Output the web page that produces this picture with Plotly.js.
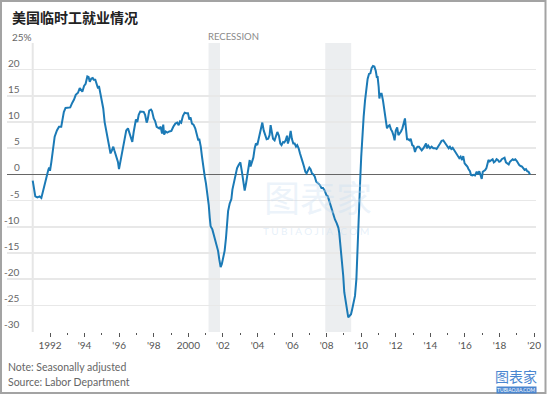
<!DOCTYPE html>
<html>
<head>
<meta charset="utf-8">
<script src="https://cdn.plot.ly/plotly-3.0.1.min.js"></script>
<style>
html,body{margin:0;padding:0;background:#fff;}
#chart{width:550px;height:396px;}
</style>
</head>
<body>
<div id="chart"></div>
<script>
// Temporary employment, % change from a year earlier
const years = [
1991.00,1991.15,1991.27,1991.40,1991.50,1991.60,1991.70,1991.80,1991.90,1991.95,
1992.00,1992.08,1992.17,1992.27,1992.40,1992.52,1992.65,1992.70,1992.80,1992.90,
1993.04,1993.17,1993.29,1993.39,1993.49,1993.62,1993.72,1993.78,1993.87,1993.97,
1994.06,1994.16,1994.23,1994.30,1994.39,1994.47,1994.53,1994.62,1994.70,1994.78,1994.83,1994.90,
1995.00,1995.08,1995.16,1995.26,1995.35,1995.45,1995.50,1995.58,1995.66,1995.72,1995.80,1995.87,1995.93,1995.99,
1996.07,1996.16,1996.24,1996.32,1996.41,1996.51,1996.60,1996.67,1996.76,1996.84,1996.93,1996.97,
1997.05,1997.13,1997.22,1997.32,1997.42,1997.50,1997.59,1997.65,1997.74,1997.84,1997.90,
1998.00,1998.08,1998.17,1998.25,1998.32,1998.40,1998.48,1998.55,1998.60,1998.69,1998.78,1998.90,
1999.02,1999.13,1999.25,1999.36,1999.44,1999.52,1999.59,1999.69,1999.79,1999.88,1999.98,
2000.06,2000.13,2000.21,2000.30,2000.40,2000.50,2000.58,2000.63,2000.72,2000.79,2000.87,2000.95,
2001.02,2001.10,2001.18,2001.24,2001.29,2001.39,2001.47,2001.56,2001.61,2001.72,2001.79,2001.87,2001.94,
2002.02,2002.10,2002.18,2002.24,2002.30,2002.39,2002.49,2002.55,2002.64,2002.72,2002.82,2002.91,
2003.01,2003.10,2003.20,2003.26,2003.34,2003.41,2003.49,2003.55,2003.60,2003.68,2003.76,2003.84,2003.91,2003.99,
2004.07,2004.15,2004.22,2004.28,2004.36,2004.43,2004.53,2004.62,2004.70,2004.76,2004.83,2004.90,2004.99,
2005.09,2005.15,2005.24,2005.32,2005.39,2005.48,2005.55,2005.63,2005.71,2005.76,2005.84,2005.92,2005.99,
2006.07,2006.15,2006.23,2006.30,2006.38,2006.46,2006.53,2006.61,2006.69,2006.77,2006.84,2006.92,
2007.00,2007.07,2007.15,2007.23,2007.31,2007.40,2007.50,2007.60,2007.70,2007.79,2007.89,2007.98,
2008.07,2008.17,2008.27,2008.38,2008.48,2008.58,2008.68,2008.73,2008.81,2008.89,2008.96,
2009.02,2009.10,2009.18,2009.25,2009.33,2009.41,2009.48,2009.56,2009.64,2009.72,2009.77,2009.83,2009.89,2009.95,
2010.00,2010.06,2010.14,2010.22,2010.29,2010.37,2010.45,2010.53,2010.60,2010.68,2010.76,2010.84,2010.90,2010.95,
2011.01,2011.05,2011.10,2011.18,2011.26,2011.33,2011.41,2011.49,2011.56,2011.64,2011.72,2011.79,2011.88,2011.93,
2012.00,2012.08,2012.15,2012.22,2012.30,2012.38,2012.45,2012.53,2012.58,2012.65,2012.72,2012.80,2012.86,2012.95,
2013.03,2013.11,2013.18,2013.26,2013.34,2013.41,2013.50,2013.60,2013.69,2013.75,2013.80,2013.88,2013.98,
2014.07,2014.17,2014.27,2014.36,2014.46,2014.56,2014.65,2014.75,2014.83,2014.90,2014.98,
2015.06,2015.13,2015.21,2015.29,2015.36,2015.44,2015.52,2015.60,2015.67,2015.75,2015.83,2015.90,2015.98,
2016.06,2016.14,2016.21,2016.29,2016.35,2016.43,2016.50,2016.58,2016.68,2016.75,2016.83,2016.91,2016.97,
2017.03,2017.09,2017.17,2017.24,2017.30,2017.36,2017.43,2017.51,2017.60,2017.67,2017.75,2017.83,2017.90,2017.98,
2018.05,2018.13,2018.22,2018.29,2018.37,2018.45,2018.53,2018.60,2018.68,2018.76,2018.83,2018.91,2018.99,
2019.06,2019.14,2019.22,2019.30,2019.37,2019.45,2019.53,2019.60,2019.68,2019.76
];
const changePct = [
-1.2,-4.2,-4.4,-4.2,-4.5,-3.1,-1.4,-0.1,0.85,1.3,
0.7,2.4,5.0,7.2,8.4,9.1,9.1,10.0,11.9,12.7,
12.75,12.8,13.7,14.3,15.2,15.6,16.5,16.2,15.8,16.9,
17.3,18.7,18.6,17.7,18.3,18.4,18.1,18.1,17.3,16.4,16.9,15.8,
14.5,12.6,10.0,8.1,6.9,5.3,4.0,4.6,5.3,4.6,3.8,3.4,2.4,1.0,
2.4,4.0,5.6,7.2,8.4,8.8,7.8,7.0,6.2,8.1,10.3,10.5,
10.0,11.4,12.0,11.9,11.95,11.4,9.9,10.5,12.2,12.4,12.1,
10.7,10.2,9.1,8.9,8.8,9.1,7.8,9.5,7.6,8.2,8.0,8.2,
8.3,9.1,9.7,9.9,9.4,10.1,9.9,11.2,11.8,11.7,11.7,
10.5,10.9,9.7,9.5,8.8,7.2,6.5,6.8,5.3,3.4,1.2,-0.4,
-1.7,-3.6,-5.8,-8.3,-9.9,-10.5,-11.5,-12.4,-13.0,-14.6,-16.2,-17.7,-17.1,
-16.0,-14.6,-12.1,-9.6,-7.0,-5.6,-4.7,-2.9,-1.4,0.2,1.2,1.8,
2.3,0.5,-1.7,-3.1,-1.7,-0.1,1.2,2.75,1.5,2.4,3.2,5.0,5.9,5.6,
6.9,7.8,9.4,9.9,8.4,7.5,6.7,6.8,7.5,9.4,8.2,6.8,6.5,
7.8,8.1,7.4,5.9,5.6,6.2,6.1,6.5,7.4,5.9,6.8,8.3,6.8,
5.9,5.9,5.3,5.6,5.0,4.0,3.4,2.4,1.5,0.5,0.2,0.85,
1.3,1.0,0.2,0.0,-0.4,-1.4,-1.7,-2.0,-2.6,-2.6,-3.1,-3.9,
-4.2,-5.3,-6.3,-7.4,-8.6,-9.3,-10.2,-11.2,-13.7,-16.9,-19.4,
-22.5,-24.4,-26.3,-27.3,-27.0,-26.7,-25.7,-24.4,-23.2,-20.0,-15.0,-9.9,-4.8,-0.4,
3.4,7.2,11.0,14.1,16.7,18.25,19.2,19.3,20.3,20.7,20.6,19.8,18.6,18.6,
16.7,14.5,15.4,15.4,14.1,12.2,10.0,8.8,9.2,9.4,8.6,8.2,7.3,6.5,
8.4,9.0,7.5,7.8,8.2,8.8,9.7,10.7,9.0,6.7,6.7,6.5,6.8,5.6,
5.4,4.3,5.0,5.3,5.3,5.0,4.6,5.0,5.7,5.9,5.0,5.5,5.0,
5.3,5.0,5.0,4.85,5.3,5.9,6.4,6.5,6.1,5.7,5.5,
5.0,5.3,4.85,5.1,4.7,4.3,3.8,3.4,3.1,3.4,2.75,3.5,2.1,
1.8,1.5,1.0,0.6,-0.1,-0.2,-0.1,-0.2,0.5,0.0,0.6,-0.1,-0.85,
0.5,0.6,0.85,1.2,2.1,2.75,2.5,2.75,2.9,2.3,2.5,2.9,2.75,2.4,
2.5,2.9,3.1,3.2,2.3,2.1,1.9,2.4,2.75,2.9,2.75,2.9,2.6,
2.1,1.8,1.6,1.5,1.2,0.85,1.0,0.6,0.5,0.0
];
const recessionStart = [2001.17, 2007.92];
const recessionEnd   = [2001.83, 2009.42];
const xTickVals  = [1992,1994,1996,1998,2000,2002,2004,2006,2008,2010,2012,2014,2016,2018,2020];
const xTickText  = ["1992","'94","'96","'98","2000","'02","'04","'06","'08","'10","'12","'14","'16","'18","'20"];
const xMinorVals = [1993,1995,1997,1999,2001,2003,2005,2007,2009,2011,2013,2015,2017,2019];
const yTickVals  = [25,20,15,10,5,0,-5,-10,-15,-20,-25,-30];
const yTickText  = ["25%","20","15","10","5","0","-5","-10","-15","-20","-25","-30"];
const titleText  = "美国临时工就业情况";
const noteText   = "Note: Seasonally adjusted";
const sourceText = "Source: Labor Department";

const FONT = "Lato, 'Open Sans', sans-serif";
const W = 550, H = 396, L = 7, R = 14, T = 43, B = 64;
const pw = W - L - R, ph = H - T - B;
const px2paperX = p => (p - L) / pw;
const px2paperY = p => (H - B - p) / ph;

const shapes = [];
recessionStart.forEach((s, i) => {
  shapes.push({type:'rect', xref:'x', yref:'paper', x0:s, x1:recessionEnd[i], y0:0, y1:1,
    fillcolor:'#eceef0', line:{width:0}, layer:'below'});
});
shapes.push({type:'line', xref:'x', yref:'paper', x0:years[0], x1:years[0], y0:0, y1:1,
  line:{color:'#e6e6e6', width:2}, layer:'below'});
shapes.push({type:'rect', xref:'paper', yref:'paper',
  x0:px2paperX(1), x1:px2paperX(545.5), y0:px2paperY(393), y1:px2paperY(1),
  line:{color:'#a3a3a3', width:2}, fillcolor:'rgba(0,0,0,0)', layer:'above'});

const annotations = [];
yTickVals.forEach((v, i) => {
  const t = yTickText[i];
  annotations.push({xref:'paper', yref:'y', x:0, y:v, xanchor: t.indexOf('%')>=0 ? 'left':'right',
    xshift: t.indexOf('%')>=0 ? 3 : 15, yanchor:'bottom', yshift:-1, showarrow:false, text:t,
    font:{family:FONT, size:10, color:'#666'}});
});
annotations.push({xref:'x', yref:'paper', x:recessionStart[0], y:1, xanchor:'left', yanchor:'bottom',
  xshift:-3, yshift:-1, showarrow:false, text:'RECESSION', font:{family:FONT, size:9.5, color:'#8a8a8a'}});
annotations.push({xref:'paper', yref:'paper', x:px2paperX(6), y:px2paperY(367), xanchor:'left', yanchor:'middle',
  showarrow:false, text:noteText, font:{family:FONT, size:10.5, color:'#666'}});
annotations.push({xref:'paper', yref:'paper', x:px2paperX(6), y:px2paperY(381.5), xanchor:'left', yanchor:'middle',
  showarrow:false, text:sourceText, font:{family:FONT, size:10.5, color:'#666'}});
// watermark
annotations.push({xref:'paper', yref:'paper', x:px2paperX(318), y:px2paperY(196), xanchor:'center', yanchor:'middle',
  showarrow:false, text:'图表家', font:{family:"'Noto Sans CJK SC'", size:36, color:'rgba(200,222,242,0.35)'}});
annotations.push({xref:'paper', yref:'paper', x:px2paperX(316), y:px2paperY(231), xanchor:'center', yanchor:'middle',
  showarrow:false, text:'T U B I A O J I A . C O M', font:{family:FONT, size:10, color:'rgba(200,222,242,0.45)'}});
annotations.push({xref:'paper', yref:'paper', x:px2paperX(516), y:px2paperY(376), xanchor:'center', yanchor:'middle',
  showarrow:false, text:'图表家', font:{family:"'Noto Sans CJK SC'", size:14, color:'#4a86d0'}});
annotations.push({xref:'paper', yref:'paper', x:px2paperX(516), y:px2paperY(389.5), xanchor:'center', yanchor:'middle',
  showarrow:false, text:'TUBIAOJIA.COM', bgcolor:'#4a86d0', borderpad:0, font:{family:FONT, size:5, color:'#fff'}});

const trace = {x:years, y:changePct, type:'scatter', mode:'lines',
  line:{color:'#1b7ab6', width:2}, hoverinfo:'skip'};

const layout = {
  width:W, height:H, margin:{l:L, r:R, t:T, b:B, pad:0},
  paper_bgcolor:'#fff', plot_bgcolor:'#fff', showlegend:false,
  title:{text:'<b>'+titleText+'</b>', xref:'container', yref:'container', x:12/W, xanchor:'left',
    y:1-18/H, yanchor:'middle', font:{family:"'Noto Sans CJK SC'", size:14, color:'#222'}},
  xaxis:{range:[1989.513, 2020.109], showgrid:false, zeroline:false, showline:false,
    tickmode:'array', tickvals:xTickVals, ticktext:xTickText, ticks:'outside', ticklen:4, tickwidth:1,
    tickcolor:'#555', tickfont:{family:FONT, size:10, color:'#555'},
    minor:{tickmode:'array', tickvals:xMinorVals, ticks:'outside', ticklen:2, tickwidth:1, tickcolor:'#555', showgrid:false}},
  yaxis:{range:[-30.1, 25.1], tickmode:'array', tickvals:yTickVals, showticklabels:false, ticks:'',
    showgrid:true, gridcolor:'#e8e8e8', gridwidth:1.5, zeroline:true, zerolinecolor:'#666', zerolinewidth:1.5, showline:false},
  shapes:shapes, annotations:annotations, hovermode:false
};
Plotly.newPlot('chart', [trace], layout, {staticPlot:true, displayModeBar:false});
</script>
</body>
</html>
